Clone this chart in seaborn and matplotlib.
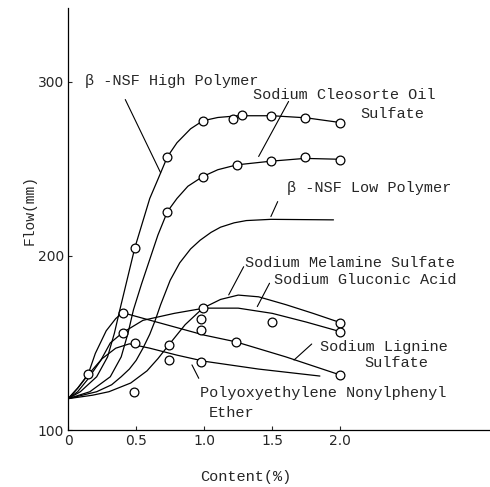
import numpy as np
import pandas as pd
import matplotlib
matplotlib.use("Agg")
import matplotlib.pyplot as plt
import seaborn as sns

# curves (Content %, Flow mm)
high_x = [0, 0.09, 0.21, 0.29, 0.34, 0.38, 0.49, 0.6, 0.66, 0.73, 0.8, 0.9, 0.99, 1.1, 1.25, 1.5, 1.75, 2.0]
high_y = [118, 122, 130.6, 142, 155.6, 169, 204.6, 233, 244, 257, 265, 273, 277.6, 279.5, 280.5, 280.5, 279.3, 276.6]
high_mx = [0.49, 0.73, 0.99, 1.21, 1.28, 1.49, 1.74, 2.0]
high_my = [204.6, 257, 277.6, 278.7, 281, 280.6, 279.3, 276.6]

cleo_x = [0, 0.16, 0.31, 0.39, 0.44, 0.48, 0.54, 0.6, 0.66, 0.73, 0.8, 0.88, 0.99, 1.1, 1.24, 1.49, 1.74, 2.0]
cleo_y = [118, 122, 130.6, 142, 155.6, 169, 184, 198, 212, 225.5, 233, 240, 245.6, 249.5, 252.3, 254.4, 256, 255.5]
cleo_mx = [0.73, 0.99, 1.24, 1.49, 1.74, 2.0]
cleo_my = [225.5, 245.6, 252.3, 254.4, 256.7, 255.2]

low_x = [0, 0.21, 0.32, 0.39, 0.45, 0.5, 0.55, 0.6, 0.64, 0.68, 0.75, 0.82, 0.9, 0.97, 1.05, 1.12, 1.22, 1.31, 1.49, 1.95]
low_y = [118, 122, 126, 130.6, 135, 140, 147, 155, 163, 172, 186, 196, 204, 209, 213.5, 216.5, 219, 220.3, 221, 220.7]

mela_x = [0, 0.18, 0.3, 0.46, 0.58, 0.66, 0.74, 0.86, 0.99, 1.12, 1.25, 1.4, 1.6, 1.8, 2.0]
mela_y = [118, 120, 122, 127, 134, 141, 148.9, 160.5, 170, 175, 177.5, 176.5, 172, 167, 161.7]
mela_mx = [0.485, 0.74, 0.99, 2.0]
mela_my = [122, 148.9, 170, 161.7]

gluc_x = [0, 0.07, 0.14, 0.24, 0.31, 0.40, 0.55, 0.78, 1.0, 1.25, 1.5, 1.75, 2.0]
gluc_y = [118, 122, 128.7, 140, 150, 155.9, 163, 167, 170, 170, 167, 162, 156.5]
gluc_mx = [0.40, 0.98, 1.5, 2.0]
gluc_my = [155.9, 163.6, 162.3, 156.5]

lign_x = [0, 0.07, 0.147, 0.2, 0.28, 0.35, 0.40, 1.0, 1.23, 1.6, 2.0]
lign_y = [118, 124, 132, 144, 157, 164, 167.4, 154.5, 150.7, 142, 131.6]
lign_mx = [0.147, 0.40, 0.98, 1.23, 2.0]
lign_my = [132, 167.4, 157.5, 150.7, 131.6]

poly_x = [0, 0.07, 0.15, 0.25, 0.35, 0.45, 0.6, 0.8, 1.0, 1.4, 1.85]
poly_y = [118, 124, 132, 141, 147, 149.5, 147, 143, 139.5, 135, 131]
poly_mx = [0.49, 0.74, 0.98]
poly_my = [149.8, 140.2, 139.3]

names = ["High", "Cleosorte", "Low", "Melamine", "Gluconic", "Lignine", "Polyoxy"]
curves = [(high_x, high_y), (cleo_x, cleo_y), (low_x, low_y), (mela_x, mela_y),
          (gluc_x, gluc_y), (lign_x, lign_y), (poly_x, poly_y)]
marks = [(high_mx, high_my), (cleo_mx, cleo_my), ([], []), (mela_mx, mela_my),
         (gluc_mx, gluc_my), (lign_mx, lign_my), (poly_mx, poly_my)]

line_df = pd.concat([pd.DataFrame({"Content": c[0], "Flow": c[1], "Agent": n})
                     for n, c in zip(names, curves)], ignore_index=True)
mark_df = pd.concat([pd.DataFrame({"Content": m[0], "Flow": m[1], "Agent": n})
                     for n, m in zip(names, marks)], ignore_index=True)

sns.set_style("ticks")
mono = ["Liberation Mono", "DejaVu Sans Mono"]

fig = plt.figure(figsize=(4.9, 4.87), dpi=100)
ax = fig.add_axes([0.139, 0.117, 0.861, 0.867])

sns.lineplot(data=line_df, x="Content", y="Flow", units="Agent", estimator=None, sort=False,
             color="black", lw=0.9, ax=ax)
sns.scatterplot(data=mark_df, x="Content", y="Flow", marker="o", s=40, facecolor="white",
                edgecolor="black", linewidth=0.9, zorder=5, ax=ax)

ax.set_xlim(0, 3.1)
ax.set_ylim(100, 342.5)
ax.set_xticks([0, 0.5, 1.0, 1.5, 2.0])
ax.set_xticklabels(["0", "0.5", "1.0", "1.5", "2.0"])
ax.set_yticks([100, 200, 300])
ax.tick_params(axis="both", direction="in", length=3, width=0.8, labelsize=10, pad=3)
for s in ["top", "right"]:
    ax.spines[s].set_visible(False)
for s in ["left", "bottom"]:
    ax.spines[s].set_linewidth(0.9)
    ax.spines[s].set_color("black")

ax.set_xlabel("Content(%)", family=mono, fontsize=11)
ax.xaxis.set_label_coords(0.42, -0.095)
ax.set_ylabel("Flow(mm)", family=mono, fontsize=10.5)
ax.yaxis.set_label_coords(-0.075, 0.52)

labels = [
    ("β -NSF High Polymer", 0.125, 300.5, (0.42, 289.8), (0.68, 247.7)),
    ("Sodium Cleosorte Oil", 1.36, 292.5, (1.62, 288.7), (1.40, 257.1)),
    ("Sulfate", 2.15, 281.5, None, None),
    ("β -NSF Low Polymer", 1.61, 239, (1.54, 231.2), (1.49, 222.6)),
    ("Sodium Melamine Sulfate", 1.30, 195.8, (1.29, 193.8), (1.18, 177.6)),
    ("Sodium Gluconic Acid", 1.51, 186.2, (1.48, 184.3), (1.39, 170.9)),
    ("Sodium Lignine", 1.85, 147.9, (1.79, 149.4), (1.66, 140.2)),
    ("Sulfate", 2.18, 138.3, None, None),
    ("Polyoxyethylene Nonylphenyl", 0.97, 121, (0.96, 129.7), (0.91, 137.4)),
    ("Ether", 1.03, 109.6, None, None),
]
for txt, tx, ty, p0, p1 in labels:
    ax.text(tx, ty, txt, family=mono, fontsize=11, ha="left", va="center")
    if p0 is not None:
        ax.annotate("", xy=p1, xytext=p0,
                    arrowprops=dict(arrowstyle="-", lw=0.8, color="black", shrinkA=0, shrinkB=0))

fig.savefig("out.png", dpi=100)
